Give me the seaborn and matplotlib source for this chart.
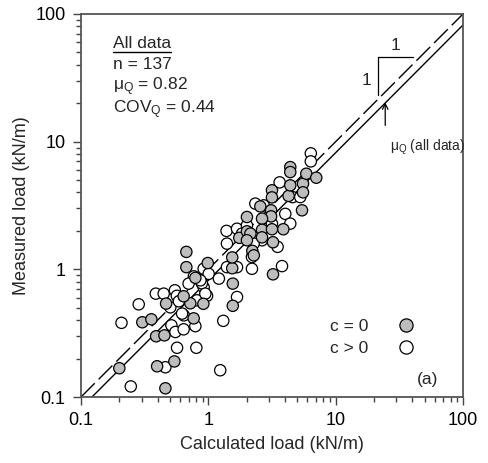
import numpy as np
import pandas as pd
import matplotlib
matplotlib.use("Agg")
import matplotlib.pyplot as plt
import seaborn as sns
from matplotlib.lines import Line2D
from matplotlib.ticker import LogLocator, NullFormatter

# ---- data (calculated load, measured load), kN/m ----
c0_calc = [0.20, 0.46, 0.396, 0.541, 0.389, 0.452, 0.303, 0.357, 0.767, 0.466,
           0.722, 0.914, 0.64, 0.791, 0.672, 0.672, 0.99, 1.556, 1.556, 1.54,
           1.54, 1.75, 2.01, 2.01, 2.215, 2.276, 2.56, 3.11, 3.11, 2.64,
           2.64, 3.16, 3.88, 2.64, 3.22, 2.14, 3.22, 5.44, 3.16, 3.16,
           4.27, 4.40, 5.54, 5.54, 4.40, 4.40, 5.88, 7.04, 2.01]
c0_meas = [0.168, 0.117, 0.174, 0.19, 0.299, 0.304, 0.385, 0.406, 0.413, 0.539,
           0.542, 0.537, 0.615, 0.858, 1.37, 1.04, 1.12, 0.518, 0.773, 1.02,
           1.24, 1.765, 1.985, 2.57, 1.396, 1.287, 3.11, 2.90, 2.60, 2.495,
           2.04, 2.06, 2.06, 1.78, 1.63, 1.905, 0.914, 2.90, 4.16, 3.66,
           3.76, 4.55, 4.69, 4.01, 6.32, 5.78, 5.61, 5.22, 1.69]

cp_calc = [0.246, 0.46, 1.24, 0.568, 0.805, 0.208, 0.284, 0.387, 0.446, 0.546,
           0.566, 0.513, 0.551, 0.64, 0.791, 0.642, 0.503, 0.587, 1.31, 0.815,
           0.977, 0.919, 0.889, 0.77, 0.919, 1.006, 1.21, 1.40, 1.68, 1.68,
           1.39, 1.40, 1.68, 2.20, 1.84, 2.34, 2.72, 2.20, 2.64, 3.50,
           3.79, 4.02, 4.40, 3.63, 4.59, 5.27, 6.38, 6.38, 3.16, 0.70,
           0.866, 0.947, 0.622, 2.27, 2.01]
cp_meas = [0.121, 0.171, 0.162, 0.243, 0.243, 0.381, 0.532, 0.645, 0.645, 0.685,
           0.62, 0.364, 0.323, 0.339, 0.359, 0.436, 0.504, 0.562, 0.395, 0.572,
           0.62, 0.723, 0.777, 0.881, 1.01, 0.922, 0.846, 1.04, 1.04, 0.607,
           2.0, 1.59, 2.08, 1.01, 1.905, 3.27, 3.17, 1.25, 1.69, 1.50,
           1.06, 2.72, 2.28, 4.80, 3.68, 3.68, 8.10, 7.01, 2.28, 0.773,
           0.82, 0.645, 0.45, 1.59, 2.21]

group_labels = ["c = 0", "c > 0"]
line_x = [0.1, 100]
mu_q = 0.82
cov_q = 0.44
n_total = 137
tick_vals = [0.1, 1, 10, 100]
tick_labels = ["0.1", "1", "10", "100"]

df = pd.DataFrame({
    "calc": cp_calc + c0_calc,
    "meas": cp_meas + c0_meas,
    "grp": [group_labels[1]] * len(cp_calc) + [group_labels[0]] * len(c0_calc),
})

sns.set_style("ticks")
plt.rcParams["font.family"] = ["Liberation Sans", "DejaVu Sans"]
plt.rcParams["mathtext.fontset"] = "custom"
plt.rcParams["mathtext.rm"] = "Liberation Sans"
plt.rcParams["mathtext.it"] = "Liberation Sans:italic"

fig = plt.figure(figsize=(4.88, 4.63), dpi=100)
ax = fig.add_axes([81 / 488, (463 - 397) / 463, 382 / 488, 383 / 463])

ax.set_xscale("log")
ax.set_yscale("log")

# reference lines
ax.plot(line_x, line_x, color="black", lw=1.0, dashes=(14, 4), zorder=1)
ax.plot(line_x, [v * mu_q for v in line_x], color="black", lw=1.0, zorder=1)

palette = {group_labels[0]: "#bdbdbd", group_labels[1]: "white"}
sns.scatterplot(data=df, x="calc", y="meas", hue="grp", palette=palette,
                hue_order=[group_labels[1], group_labels[0]],
                s=66, edgecolor="black", linewidth=0.9, legend=False,
                ax=ax, zorder=3)

ax.set_xlim(0.1, 100)
ax.set_ylim(0.1, 100)
ax.set_xticks(tick_vals)
ax.set_xticklabels(tick_labels)
ax.set_yticks(tick_vals)
ax.set_yticklabels(tick_labels)
for axis in (ax.xaxis, ax.yaxis):
    axis.set_minor_locator(LogLocator(base=10, subs=np.arange(2, 10)))
    axis.set_minor_formatter(NullFormatter())
ax.tick_params(which="major", direction="out", length=6, width=1.0,
               colors="#444444", labelcolor="black", labelsize=13, pad=5)
ax.tick_params(which="minor", direction="out", length=3.5, width=1.0,
               colors="#444444")
for sp in ax.spines.values():
    sp.set_visible(True)
    sp.set_color("#555555")
    sp.set_linewidth(1.3)

ax.set_xlabel("Calculated load (kN/m)", fontsize=13, labelpad=5)
ax.set_ylabel("Measured load (kN/m)", fontsize=13, labelpad=4)

# statistics block
fs = 12.5
ax.text(0.084, 0.924, "All data", transform=ax.transAxes, fontsize=fs,
        va="center", ha="left")
ax.plot([0.084, 0.236], [0.902, 0.902], transform=ax.transAxes,
        color="black", lw=1.0)
ax.text(0.084, 0.869, f"n = {n_total}", transform=ax.transAxes, fontsize=fs,
        va="center", ha="left")
ax.text(0.084, 0.809, "μ$_{\\mathregular{Q}}$ = " + f"{mu_q:.2f}",
        transform=ax.transAxes, fontsize=fs, va="center", ha="left")
ax.text(0.084, 0.749, "COV$_{\\mathregular{Q}}$ = " + f"{cov_q:.2f}",
        transform=ax.transAxes, fontsize=fs, va="center", ha="left")

# slope triangle
ax.plot([21.6, 40.7], [45.7, 45.7], color="black", lw=0.9)
ax.plot([21.6, 21.6], [45.7, 23.0], color="black", lw=0.9)
ax.text(29.4, 56.8, "1", fontsize=12.5, ha="center", va="center")
ax.text(17.4, 30.2, "1", fontsize=12.5, ha="center", va="center")

# arrow to mu_Q line
ax.annotate("", xy=(24.5, 20.3), xytext=(24.5, 13.4),
            arrowprops=dict(arrowstyle="->", color="black", lw=0.9,
                            shrinkA=0, shrinkB=0))
ax.text(26.5, 9.0, "μ$_{\\mathregular{Q}}$ (all data)", fontsize=10,
        ha="left", va="center")

# legend
handles = [
    Line2D([], [], ls="none", marker="o", markersize=9.5,
           markerfacecolor=palette[group_labels[0]], markeredgecolor="black",
           markeredgewidth=0.9),
    Line2D([], [], ls="none", marker="o", markersize=9.5,
           markerfacecolor=palette[group_labels[1]], markeredgecolor="black",
           markeredgewidth=0.9),
]
ax.legend(handles, group_labels, markerfirst=False, frameon=False,
          loc="lower right", bbox_to_anchor=(0.915, 0.09), fontsize=12.5,
          handletextpad=1.2, labelspacing=0.35, borderaxespad=0)

ax.text(0.935, 0.045, "(a)", transform=ax.transAxes, fontsize=12.5,
        ha="right", va="center")

fig.savefig("out.png", dpi=100)
